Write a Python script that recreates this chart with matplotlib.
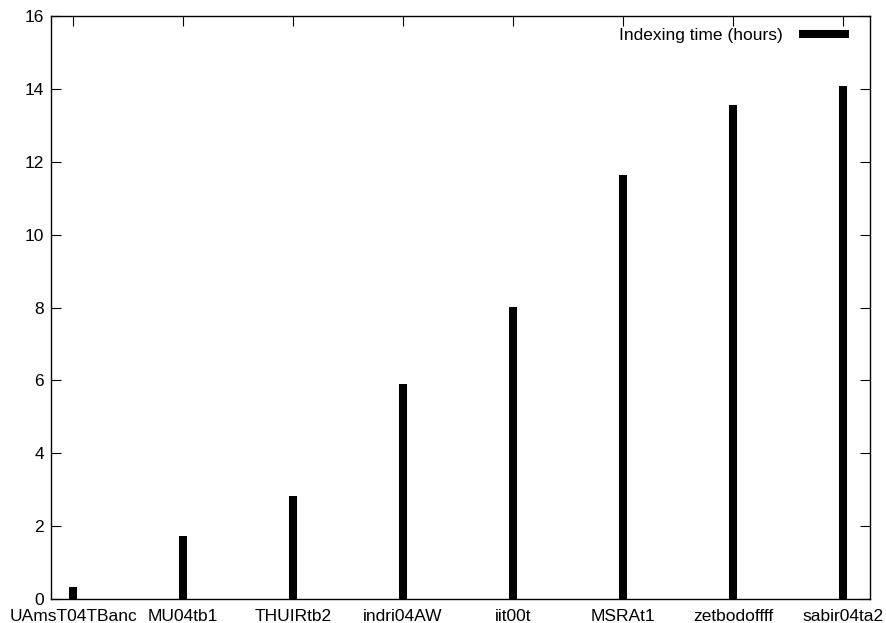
import matplotlib
matplotlib.use("Agg")
import matplotlib.pyplot as plt

categories = ["UAmsT04TBanc", "MU04tb1", "THUIRtb2", "indri04AW", "iit00t",
              "MSRAt1", "zetbodoffff", "sabir04ta2"]
values = [0.33, 1.73, 2.83, 5.91, 8.02, 11.65, 13.57, 14.07]
yticks = [0, 2, 4, 6, 8, 10, 12, 14, 16]

plt.rcParams['font.family'] = ['Liberation Sans', 'DejaVu Sans']
fig = plt.figure(figsize=(8.86, 6.23), dpi=100)
W, H = 886, 623
ax = fig.add_axes([51 / W, (623 - 599) / H, (870 - 51) / W, (599 - 16) / H])

x = list(range(len(categories)))
ax.vlines(x, 0, values, colors='black', linewidth=5.8, label='Indexing time (hours)')

ax.set_xlim(-0.2, 7.245)
ax.set_ylim(0, 16)
ax.set_xticks(x)
ax.set_xticklabels(categories)
ax.set_yticks(yticks)
ax.tick_params(direction='in', length=7, width=0.8, top=True, right=True,
               labelsize=12.5, colors='black')
ax.tick_params(axis='x', pad=7)
ax.tick_params(axis='y', pad=5)
for s in ax.spines.values():
    s.set_linewidth(1.0)

leg = ax.legend(loc='upper right', bbox_to_anchor=(0.9744, 0.980),
                frameon=False, fontsize=12.5, handlelength=2.9,
                handletextpad=0.9, borderaxespad=0.0, borderpad=0.0,
                markerfirst=False)

fig.savefig("out.png", dpi=100)
